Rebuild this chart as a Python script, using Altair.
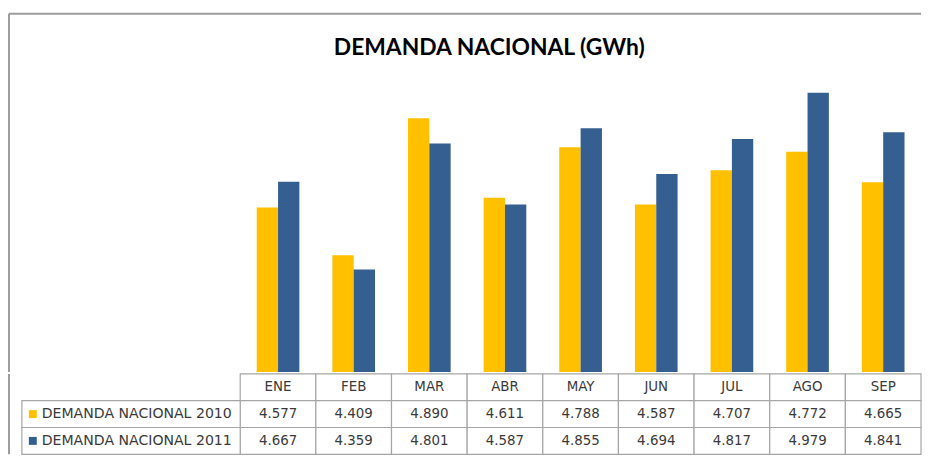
import altair as alt
import pandas as pd

TITLE = "DEMANDA NACIONAL (GWh)"
months = ["ENE", "FEB", "MAR", "ABR", "MAY", "JUN", "JUL", "AGO", "SEP"]
series = ["DEMANDA NACIONAL 2010", "DEMANDA NACIONAL 2011"]
demanda_2010 = [4.577, 4.409, 4.890, 4.611, 4.788, 4.587, 4.707, 4.772, 4.665]
demanda_2011 = [4.667, 4.359, 4.801, 4.587, 4.855, 4.694, 4.817, 4.979, 4.841]
colors = ["#FFC000", "#365F91"]

long_df = pd.DataFrame(
    [{"mes": m, "serie": series[0], "valor": v} for m, v in zip(months, demanda_2010)]
    + [{"mes": m, "serie": series[1], "valor": v} for m, v in zip(months, demanda_2011)]
)
rows = ["header"] + series
cells_df = pd.DataFrame([{"mes": m, "fila": r} for r in rows for m in months])
header_df = pd.DataFrame({"mes": months, "fila": ["header"] * len(months)})
labels_df = pd.DataFrame({"fila": series, "serie": series})
long_df["fila"] = long_df["serie"]

W = 920
PLOT_H = 316
TABLE_H = 81
X0 = 234  # start of month columns inside the plot
GRID = "#a6a6a6"
FRAME = "#9c9c9c"
TXT = "#3a3a3a"
FONT = "DejaVu Sans"

color_scale = alt.Scale(domain=series, range=colors)

# ---------- bar chart ----------
x_bars = alt.X("mes:N", sort=months, axis=None,
               scale=alt.Scale(domain=months, range=[X0, W], paddingInner=0.436, paddingOuter=0.218))
bars = alt.Chart(long_df).mark_bar().encode(
    x=x_bars,
    xOffset=alt.XOffset("serie:N", sort=series, scale=alt.Scale(domain=series, paddingInner=0, paddingOuter=0)),
    y=alt.Y("valor:Q", axis=None, scale=alt.Scale(domain=[4.0, 5.1], zero=False, nice=False, clamp=True)),
    color=alt.Color("serie:N", scale=color_scale, legend=None),
)

title_txt = alt.Chart(pd.DataFrame({"t": [TITLE]})).mark_text(
    font="Lato", fontSize=23, fontWeight="bold", color="#000000", align="center", baseline="middle"
).encode(x=alt.value(485), y=alt.value(-10), text="t:N")

frame_top = alt.Chart(pd.DataFrame({"k": [0]})).mark_rule(color=FRAME, strokeWidth=2).encode(
    x=alt.value(1), x2=alt.value(W), y=alt.value(-45))
frame_left_top = alt.Chart(pd.DataFrame({"k": [0]})).mark_rule(color=FRAME, strokeWidth=2).encode(
    x=alt.value(1), y=alt.value(-45), y2=alt.value(PLOT_H))

top = alt.layer(frame_top, frame_left_top, bars, title_txt).properties(width=W, height=PLOT_H)

# ---------- data table ----------
x_tab = alt.X("mes:N", sort=months, axis=None,
              scale=alt.Scale(domain=months, range=[X0, W], paddingInner=0, paddingOuter=0))
y_tab = alt.Y("fila:N", axis=None, scale=alt.Scale(domain=rows, paddingInner=0, paddingOuter=0))

cells = alt.Chart(cells_df).mark_rect(fill="white", stroke=GRID, strokeWidth=1.2).encode(x=x_tab, y=y_tab)
label_cells = alt.Chart(labels_df).mark_rect(fill="white", stroke=GRID, strokeWidth=1.2).encode(
    x=alt.value(14), x2=alt.value(X0), y=y_tab)
header_text = alt.Chart(header_df).mark_text(font=FONT, fontSize=13.5, color=TXT).encode(
    x=x_tab, y=y_tab, text="mes:N")
value_text = alt.Chart(long_df).mark_text(font=FONT, fontSize=13.5, color=TXT).encode(
    x=x_tab, y=y_tab, text=alt.Text("valor:Q", format=".3f"))
squares = alt.Chart(labels_df).mark_square(size=64, opacity=1).encode(
    x=alt.value(25), y=y_tab, color=alt.Color("serie:N", scale=color_scale, legend=None))
label_text = alt.Chart(labels_df).mark_text(font=FONT, fontSize=14.2, color=TXT, align="left").encode(
    x=alt.value(34), y=y_tab, text="serie:N")
frame_left_bottom = alt.Chart(pd.DataFrame({"k": [0]})).mark_rule(color=FRAME, strokeWidth=2).encode(
    x=alt.value(1), y=alt.value(0), y2=alt.value(TABLE_H))

table = alt.layer(frame_left_bottom, cells, label_cells, header_text, value_text, squares, label_text).properties(
    width=W, height=TABLE_H)

chart = alt.vconcat(top, table, spacing=0).properties(
    padding={"left": 0, "top": 3, "right": 0, "bottom": 0},
    background="white",
).configure_view(stroke=None)

chart.save("out.html", embed_options={"renderer": "svg", "actions": False})
